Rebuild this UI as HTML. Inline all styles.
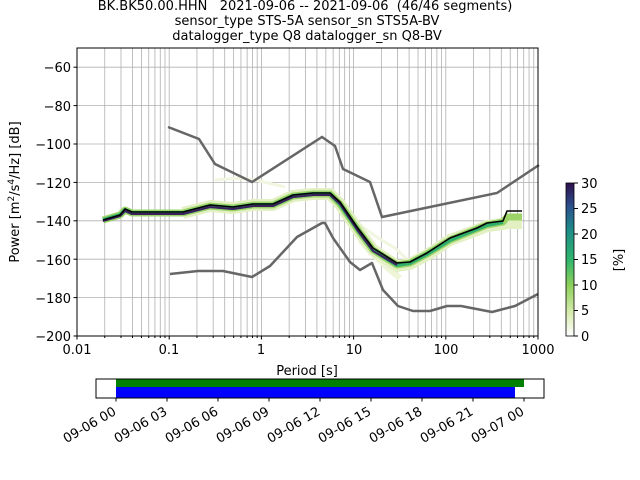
<!DOCTYPE html>
<html><head><meta charset="utf-8"><style>
body{margin:0;background:#fff;width:640px;height:480px;overflow:hidden}
svg{font-family:"DejaVu Sans","Liberation Sans",sans-serif}
</style></head><body>
<svg id="s" width="640" height="480" xmlns="http://www.w3.org/2000/svg" style="position:absolute;left:0;top:0">
<g id="grid" stroke="#b0b0b0" stroke-width="0.8"></g>
<g fill="none" stroke-linejoin="round" stroke-linecap="butt">
<polyline stroke="#f0f6e0" stroke-width="3" points="215,180 240,178 260,181 285,187"/>
<polyline stroke="#f0f6e0" stroke-width="3" points="345,205 360,225 375,236 395,248 410,262"/>
<polyline stroke="#eef5d8" stroke-width="6" points="360,240 375,256 390,270 400,278"/>
<polyline stroke="#e3f0c4" stroke-width="12" points="183,213 210,206 233,208 253,205 273,205 293,196 313,194 330,194 340,204 358,230 373,250 397,266 410,264 427,255 450,240 477,230 487,226 503,224 507,223 522,223"/>
<polyline stroke="#9cd468" stroke-width="7" points="103,220 120,215 125,210 132,213 153,213 183,213 210,206 233,208 253,205 273,205 293,196 313,194 330,194 340,204 358,230 373,250 397,265 410,263 427,254 450,240 477,229 487,225 503,222 507,217 522,217"/>
<polyline stroke="#2fae6c" stroke-width="4" points="103,220 120,215 125,210 132,213 153,213 183,213 210,206 233,208 253,205 273,205 293,196 313,194 330,194 340,204 358,230 373,250 397,265 410,263 427,254 450,240 477,229 487,225 503,222"/>
<polyline stroke="#1d7d86" stroke-width="2" points="120,216 125,211 132,214 153,214 183,214 210,207 233,209 253,206 273,206 293,197 313,195 330,195"/>
<polyline stroke="#3b1f5c" stroke-width="2" points="103,221 120,216 125,211 132,214 153,214 183,214 210,207 233,209 253,206 273,206 293,197 313,195 330,195 340,204 358,231 373,251 397,265"/>
<polyline stroke="#000" stroke-width="1.6" points="103,220 120,215 125,209 132,212 153,212 183,212 210,205 233,207 253,204 273,204 293,195 313,193 330,193 340,202 357,227 373,248 397,263 410,262 427,253 450,238 477,228 487,223 503,221 507,211 522,211"/>
<polyline stroke="#666" stroke-width="2.5" stroke-linejoin="miter" points="168,127 199,139 215,164 252,182 322,137 335,146 343,169 370,182 382,217 497,193 539,165"/>
<polyline stroke="#666" stroke-width="2.5" points="170,274 198,271 223,271 252,277 270,266 297,237 322,223 325,223 333,238 350,262 360,270 372,263 383,290 398,306 413,311 430,311 447,306 461,306 492,312 515,306 538,294"/>
</g>
<rect x="77" y="48" width="461" height="288" fill="none" stroke="#000" stroke-width="1"/>
<g id="ticks" stroke="#000"></g>
<g font-size="13" text-anchor="end" fill="#000">
<text x="71" y="72">−60</text><text x="71" y="111">−80</text><text x="71" y="149">−100</text><text x="71" y="188">−120</text><text x="71" y="226">−140</text><text x="71" y="265">−160</text><text x="71" y="303">−180</text><text x="71" y="341">−200</text>
</g>
<g font-size="13" text-anchor="middle">
<text x="77" y="354">0.01</text><text x="169" y="354">0.1</text><text x="261" y="354">1</text><text x="354" y="354">10</text><text x="446" y="354">100</text><text x="538" y="354">1000</text>
<text x="307" y="375">Period [s]</text>
<text x="305" y="10" xml:space="preserve">BK.BK50.00.HHN   2021-09-06 -- 2021-09-06  (46/46 segments)</text>
<text x="307" y="25">sensor_type STS-5A sensor_sn STS5A-BV</text>
<text x="307" y="40">datalogger_type Q8 datalogger_sn Q8-BV</text>
</g>
<text font-size="13" text-anchor="middle" transform="translate(19,192) rotate(-90)">Power [m<tspan font-size="9" dy="-5">2</tspan><tspan dy="5">/s</tspan><tspan font-size="9" dy="-5">4</tspan><tspan dy="5">/Hz] [dB]</tspan></text>
<defs><linearGradient id="cb" x1="0" y1="1" x2="0" y2="0">
<stop offset="0" stop-color="#ffffff"/><stop offset="0.15" stop-color="#d8ecb0"/><stop offset="0.33" stop-color="#8fd05a"/><stop offset="0.5" stop-color="#2fb56d"/><stop offset="0.7" stop-color="#1e8a8a"/><stop offset="0.85" stop-color="#2c4f8c"/><stop offset="1" stop-color="#2d0f4c"/></linearGradient></defs>
<rect x="566" y="183" width="8" height="153" fill="url(#cb)" stroke="#000" stroke-width="0.8"/>
<g stroke="#000">
<line x1="574" y1="336" x2="578" y2="336"/><line x1="574" y1="310.5" x2="578" y2="310.5"/><line x1="574" y1="285" x2="578" y2="285"/><line x1="574" y1="259.5" x2="578" y2="259.5"/><line x1="574" y1="234" x2="578" y2="234"/><line x1="574" y1="208.5" x2="578" y2="208.5"/><line x1="574" y1="183" x2="578" y2="183"/>
</g>
<g font-size="13">
<text x="581" y="341">0</text><text x="581" y="315">5</text><text x="581" y="290">10</text><text x="581" y="264">15</text><text x="581" y="239">20</text><text x="581" y="213">25</text><text x="581" y="188">30</text>
</g>
<text font-size="13" text-anchor="middle" transform="translate(623,260) rotate(-90)">[%]</text>
<rect x="116" y="379" width="408" height="8" fill="#008000"/>
<rect x="116" y="387" width="399" height="11" fill="#0000ff"/>
<rect x="96" y="379" width="448" height="19" fill="none" stroke="#000" stroke-width="1"/>
<g id="bt" stroke="#000"></g>
<g font-size="13" text-anchor="end">
<text transform="translate(117,414) rotate(-30)">09-06 00</text>
<text transform="translate(168,414) rotate(-30)">09-06 03</text>
<text transform="translate(219,414) rotate(-30)">09-06 06</text>
<text transform="translate(270,414) rotate(-30)">09-06 09</text>
<text transform="translate(321,414) rotate(-30)">09-06 12</text>
<text transform="translate(372,414) rotate(-30)">09-06 15</text>
<text transform="translate(423,414) rotate(-30)">09-06 18</text>
<text transform="translate(474,414) rotate(-30)">09-06 21</text>
<text transform="translate(525,414) rotate(-30)">09-07 00</text>
</g>
</svg>
<script>
var g=document.getElementById('grid'),t=document.getElementById('ticks'),ns='http://www.w3.org/2000/svg';
function L(p,a){var e=document.createElementNS(ns,'line');for(var k in a)e.setAttribute(k,a[k]);p.appendChild(e);}
for(var d=-2;d<3;d++)for(var m=1;m<10;m++){var x=77+(d+2+Math.log10(m))*92.2;L(g,{x1:x,y1:48,x2:x,y2:336});L(t,{x1:x,y1:336,x2:x,y2:m==1?339.5:338});}
L(t,{x1:538,y1:336,x2:538,y2:339.5});
for(var v=-60;v>=-200;v-=20){var y=48+(-50-v)*288/150;L(g,{x1:77,y1:y,x2:538,y2:y});L(t,{x1:73.5,y1:y,x2:77,y2:y});}
var bt=document.getElementById('bt');for(var i=0;i<9;i++)L(bt,{x1:116+i*51,y1:398,x2:116+i*51,y2:401.5});
</script>
</body></html>
